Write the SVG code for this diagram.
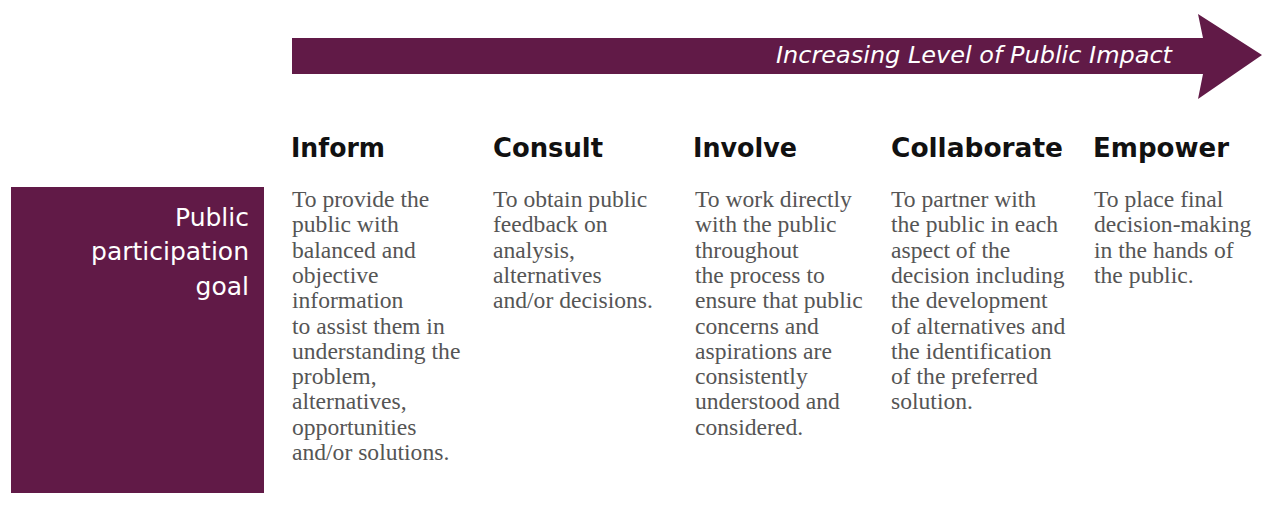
<svg xmlns="http://www.w3.org/2000/svg" width="1262" height="516" viewBox="0 0 1262 516">
<style>
.fill{fill:#611a47}
.head{font-family:"DejaVu Sans","Liberation Sans",sans-serif;font-weight:bold;font-size:26px;fill:#111}
.body{font-family:"Liberation Serif","DejaVu Serif",serif;font-size:23.6px;fill:#555}
.goal{font-family:"DejaVu Sans","Liberation Sans",sans-serif;font-size:25px;fill:#fff}
.title{font-family:"DejaVu Sans","Liberation Sans",sans-serif;font-style:italic;font-size:23px;fill:#fff}
</style>
<rect width="1262" height="516" fill="#fff"/>
<g id="arrow">
<polygon class="fill" points="292,38 1203,38 1198,14 1262,55 1198,99 1203,74 292,74"/>
<text class="title" x="776" y="63" textLength="396" lengthAdjust="spacingAndGlyphs">Increasing Level of Public Impact</text>
</g>
<g id="goal">
<rect class="fill" x="11" y="187" width="253" height="306"/>
<text class="goal" text-anchor="end"><tspan x="249" y="226">Public</tspan><tspan x="249" y="260">participation</tspan><tspan x="249" y="295">goal</tspan></text>
</g>
<g id="inform">
<text class="head" x="291" y="157" textLength="94" lengthAdjust="spacingAndGlyphs">Inform</text>
<text class="body"><tspan x="292" y="207">To provide the</tspan><tspan x="292" y="232.3">public with</tspan><tspan x="292" y="257.6">balanced and</tspan><tspan x="292" y="282.9">objective</tspan><tspan x="292" y="308.2">information</tspan><tspan x="292" y="333.5">to assist them in</tspan><tspan x="292" y="358.8">understanding the</tspan><tspan x="292" y="384.1">problem,</tspan><tspan x="292" y="409.4">alternatives,</tspan><tspan x="292" y="434.7">opportunities</tspan><tspan x="292" y="460">and/or solutions.</tspan></text>
</g>
<g id="consult">
<text class="head" x="493" y="157" textLength="110" lengthAdjust="spacingAndGlyphs">Consult</text>
<text class="body"><tspan x="493" y="207">To obtain public</tspan><tspan x="493" y="232.3">feedback on</tspan><tspan x="493" y="257.6">analysis,</tspan><tspan x="493" y="282.9">alternatives</tspan><tspan x="493" y="308.2">and/or decisions.</tspan></text>
</g>
<g id="involve">
<text class="head" x="693" y="157" textLength="104" lengthAdjust="spacingAndGlyphs">Involve</text>
<text class="body"><tspan x="695" y="207">To work directly</tspan><tspan x="695" y="232.3">with the public</tspan><tspan x="695" y="257.6">throughout</tspan><tspan x="695" y="282.9">the process to</tspan><tspan x="695" y="308.2">ensure that public</tspan><tspan x="695" y="333.5">concerns and</tspan><tspan x="695" y="358.8">aspirations are</tspan><tspan x="695" y="384.1">consistently</tspan><tspan x="695" y="409.4">understood and</tspan><tspan x="695" y="434.7">considered.</tspan></text>
</g>
<g id="collaborate">
<text class="head" x="891" y="157" textLength="172" lengthAdjust="spacingAndGlyphs">Collaborate</text>
<text class="body"><tspan x="891" y="207">To partner with</tspan><tspan x="891" y="232.3">the public in each</tspan><tspan x="891" y="257.6">aspect of the</tspan><tspan x="891" y="282.9">decision including</tspan><tspan x="891" y="308.2">the development</tspan><tspan x="891" y="333.5">of alternatives and</tspan><tspan x="891" y="358.8">the identification</tspan><tspan x="891" y="384.1">of the preferred</tspan><tspan x="891" y="409.4">solution.</tspan></text>
</g>
<g id="empower">
<text class="head" x="1093" y="157" textLength="136" lengthAdjust="spacingAndGlyphs">Empower</text>
<text class="body"><tspan x="1094" y="207">To place final</tspan><tspan x="1094" y="232.3">decision-making</tspan><tspan x="1094" y="257.6">in the hands of</tspan><tspan x="1094" y="282.9">the public.</tspan></text>
</g>
<g id="connectors"></g>
</svg>
